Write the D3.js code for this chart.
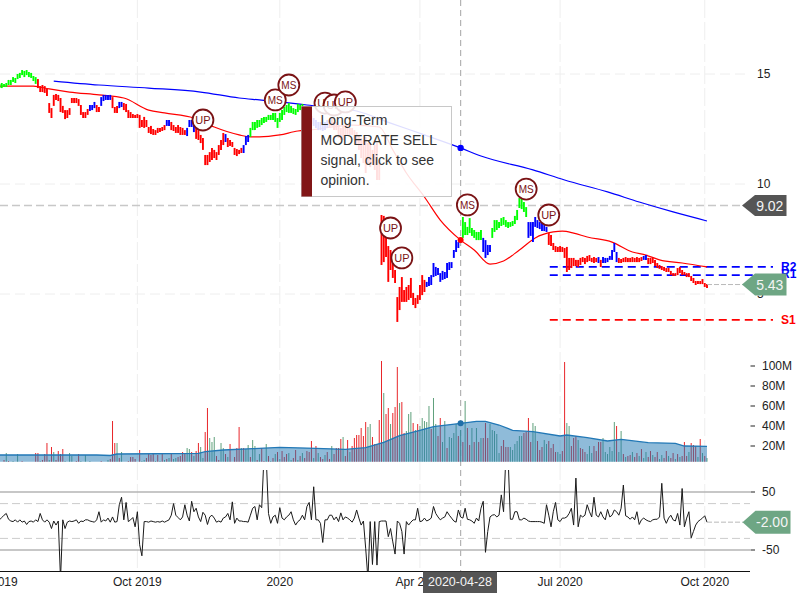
<!DOCTYPE html>
<html><head><meta charset="utf-8">
<script src="https://cdn.jsdelivr.net/npm/d3@7"></script>
<style>html,body{margin:0;padding:0;background:#fff}svg{display:block}text{font-family:"Liberation Sans",Arial,sans-serif}</style>
</head><body><svg id="c" width="800" height="600"></svg>
<script>
const highs=[14.55,14.59,14.55,14.59,14.73,14.73,14.86,14.82,15.00,15.05,
15.18,15.14,15.18,15.09,15.05,14.91,14.86,14.77,14.45,14.50,
14.45,14.32,13.68,13.45,14.05,14.09,14.05,13.91,13.55,13.36,
13.36,13.45,13.91,13.91,13.91,13.86,13.59,13.27,13.27,13.41,
13.59,13.59,13.73,13.59,13.50,13.95,14.05,14.05,14.05,14.05,
13.95,13.50,13.55,13.73,13.73,13.68,13.64,13.36,13.27,13.18,
13.14,13.18,13.14,12.91,13.05,12.91,12.59,12.64,12.50,12.45,
12.55,12.55,12.59,12.68,12.91,12.91,12.82,12.68,12.59,12.68,
12.59,12.55,12.45,12.55,12.91,12.91,12.77,12.68,12.45,12.23,
12.09,11.32,11.32,11.45,11.64,11.55,11.45,11.77,12.00,12.32,
12.27,12.09,12.00,11.91,11.64,11.59,11.55,11.64,11.77,12.18,
12.23,12.55,12.82,12.82,12.91,12.91,13.00,13.05,13.05,13.14,
13.14,13.23,13.23,13.00,13.23,13.36,13.50,13.59,13.68,13.55,
13.45,13.41,13.64,13.59,13.64,13.45,13.36,13.23,13.09,13.00,
12.91,12.82,12.82,12.73,12.82,12.91,12.91,13.00,12.82,12.82,
12.68,12.55,12.68,12.68,12.68,12.55,12.55,12.45,12.36,12.23,
12.09,12.00,12.14,11.86,11.86,11.55,11.77,11.86,11.09,8.59,
8.55,7.91,7.18,7.00,6.45,6.09,4.86,5.32,5.77,5.18,
5.32,5.41,5.73,5.05,4.82,4.95,5.41,5.86,5.64,5.55,
5.77,5.86,6.41,6.23,6.18,5.95,6.05,6.00,6.41,6.45,
6.45,7.00,7.45,7.36,7.55,8.50,8.27,8.05,8.45,8.00,
7.91,7.82,7.82,7.91,7.55,7.45,7.23,7.23,8.00,8.36,
8.36,8.27,8.45,8.50,8.36,8.27,8.27,8.32,8.55,8.82,
9.36,9.32,9.18,8.95,8.27,8.27,8.27,8.50,8.36,8.27,
8.23,8.14,8.05,7.77,7.68,7.32,7.18,7.14,7.18,7.14,
7.09,7.14,6.64,6.64,6.64,6.55,6.55,6.64,6.68,6.64,
6.73,6.77,6.64,6.68,6.64,6.68,6.55,6.68,6.64,6.64,
6.73,7.00,7.32,6.91,6.64,6.59,6.64,6.68,6.64,6.64,
6.68,6.64,6.68,6.64,6.68,6.73,6.77,6.64,6.64,6.64,
6.55,6.41,6.32,6.27,6.23,6.18,6.18,6.05,5.95,5.95,
6.18,6.23,6.09,6.00,5.95,5.95,5.82,5.73,5.59,5.59,
5.59,5.68,5.50,5.45];
const lows=[14.36,14.36,14.41,14.41,14.50,14.50,14.64,14.59,14.77,14.82,
14.95,14.86,14.95,14.86,14.82,14.68,14.55,14.36,14.18,14.18,
14.14,14.00,13.23,13.00,13.55,13.82,13.77,13.27,13.23,12.95,
13.00,13.14,13.68,13.68,13.68,13.55,13.14,13.00,13.00,13.14,
13.32,13.36,13.45,13.27,13.27,13.55,13.77,13.82,13.82,13.82,
13.45,13.23,13.23,13.45,13.50,13.36,13.27,13.00,13.00,13.00,
13.00,13.00,12.55,12.59,12.55,12.59,12.32,12.27,12.23,12.23,
12.32,12.36,12.41,12.45,12.64,12.64,12.45,12.41,12.32,12.32,
12.23,12.23,12.23,12.18,12.59,12.59,12.36,12.05,12.00,11.86,
11.55,10.86,10.86,11.00,11.09,11.18,11.09,11.32,11.55,11.77,
11.91,11.68,11.73,11.68,11.32,11.27,11.36,11.41,11.41,11.77,
11.91,12.14,12.45,12.45,12.55,12.59,12.68,12.77,12.82,12.91,
12.91,12.91,12.82,12.55,12.82,12.91,13.14,13.27,13.23,13.23,
13.18,13.14,13.27,13.36,13.45,13.23,13.14,13.00,12.73,12.64,
12.55,12.45,12.45,12.41,12.45,12.55,12.55,12.64,12.45,12.45,
12.09,12.00,12.00,12.23,12.23,12.23,12.23,12.00,11.77,11.55,
11.18,10.95,10.50,10.86,10.77,10.86,10.64,10.18,10.18,6.32,
6.45,6.68,5.55,6.09,5.73,5.50,3.73,4.27,4.64,4.64,
4.64,4.73,4.82,4.50,4.36,4.55,4.73,4.95,5.09,5.32,
5.36,5.41,5.77,5.82,5.86,5.55,5.64,5.68,5.73,6.09,
6.18,6.64,6.91,7.09,7.32,7.55,7.68,7.68,7.77,7.64,
7.55,7.45,7.45,7.45,6.91,6.64,6.77,6.91,7.55,7.82,
7.91,8.00,8.09,8.14,8.05,8.00,8.05,8.09,8.18,8.36,
8.91,8.86,8.73,8.50,7.55,7.64,7.36,8.05,8.00,7.95,
7.86,7.86,7.82,7.23,7.18,7.00,6.91,6.91,6.91,6.91,
6.64,6.00,6.09,6.18,6.27,6.27,6.23,6.32,6.45,6.36,
6.45,6.50,6.45,6.41,6.45,6.41,6.23,6.41,6.41,6.45,
6.55,6.55,6.91,6.45,6.41,6.41,6.45,6.45,6.45,6.45,
6.45,6.45,6.45,6.45,6.50,6.55,6.55,6.36,6.36,6.41,
6.27,6.18,6.14,6.09,6.05,6.00,6.00,5.86,5.82,5.82,
5.86,5.95,5.86,5.86,5.77,5.77,5.59,5.50,5.41,5.45,
5.45,5.45,5.32,5.27];
// signal runs: [signal, last bar index of the run]
const signalRuns=[["g",16],["r",39],["b",42],["r",44],["b",49],["r",52],["b",54],["r",73],["b",75],["r",82],["b",86],["r",99],["b",100],["r",107],["b",110],["g",134],["r",138],["b",145],["r",188],["b",204],["g",213],["b",217],["g",233],["b",242],["r",264],["b",265],["r",266],["b",273],["r",284],["b",286],["r",313]];
const redAvgIdx=[0,15,22,31,44,55,66,73,86,95,106,111,115,124,132,137,156,168,174,180,188,195,204,210,217,223,230,237,245,249,254,260,271,280,286,292,302,313];
const redAvgVal=[14.45,14.45,14.32,14.18,14.05,13.91,13.36,13.23,13.00,12.59,12.23,12.14,12.14,12.23,12.41,12.45,12.68,12.59,11.55,10.50,9.41,8.36,7.45,7.00,6.36,6.50,7.00,7.55,7.82,7.86,7.77,7.59,7.36,6.91,6.77,6.55,6.41,6.23];
const blueAvgIdx=[24,44,66,89,106,115,124,136,158,173,188,204,213,236,250,269,283,298,313];
const blueAvgVal=[14.68,14.50,14.36,14.18,13.91,13.82,13.73,13.59,13.32,12.77,12.23,11.64,11.27,10.64,10.18,9.64,9.18,8.73,8.32];
const markerIdx=[90,122,128,144,148,153,173,178,207,233,243];
const markerVal=[12.91,13.82,14.50,13.68,13.59,13.73,8.00,6.64,9.05,9.77,8.59];
const markerTxt=["UP","MS","MS","UP","UP","UP","UP","UP","MS","MS","UP"];
const levelNames=["R2","R1","S1"];
const levelVals=[6.23,5.86,3.82];
const volumes=[5,4,6,13,5,4,5,3,12,4,
5,3,2,3,4,2,13,13,5,6,
12,23,6,19,14,6,15,12,17,5,
4,13,10,4,5,12,5,3,11,4,
5,4,3,4,3,5,3,4,6,7,
45,23,23,8,14,3,4,5,9,9,
7,4,16,5,6,8,12,11,12,5,
11,5,12,6,7,8,12,7,8,9,
10,14,12,18,17,14,10,15,23,19,
8,34,58,28,24,29,10,6,23,18,
12,9,22,4,9,18,39,18,18,17,
21,9,26,20,6,12,18,5,22,10,
5,8,12,14,7,15,9,12,13,6,
8,16,6,10,13,8,15,14,25,8,
20,13,9,7,11,14,7,20,12,18,
18,27,29,10,26,14,20,28,31,31,
38,30,44,39,42,29,22,22,46,105,
73,52,58,42,53,59,99,63,64,33,
35,52,54,43,36,42,40,48,45,44,
60,37,68,42,30,48,24,45,18,29,
28,33,42,30,36,24,65,38,21,38,
24,38,24,28,28,43,28,42,36,35,
32,13,20,26,19,19,19,16,22,25,
30,30,33,34,48,24,43,40,25,16,
19,26,22,25,18,22,14,14,12,15,
104,43,40,20,28,30,26,18,17,14,
12,20,13,20,15,24,24,28,14,12,
19,15,44,40,14,35,12,9,10,11,
14,9,13,10,17,8,14,9,15,11,
9,14,7,11,8,15,10,8,13,7,
12,9,10,24,10,14,23,21,20,9,
27,13,10,8];
const volDirs=("rgrgrggrgr rggrgrrrgr rrgrgrrrrg rgggrrgrgr grgrgrgrgr rrgrggrrrr rgrggrrrrg rgrgrgrggr rrrggrgrrg grrgggrrgg rgrgrrrgrg grggrgrrgr grgrgrrrgg rrgrgrrrrg rgrrgrrgrr rrgrrgrrrr rrrggrrrrr grrgrrrgrr gggrgrgggg grggrrggrg gggrgrgrrg rgrgrrrggg ggrrrrgggg ggrrrrggrr rggrrrrggr rggrrrgrrr gggrrrrggg gggrggrgrr grrgrggrrg rrggrrgrrg rgrrrgrrrg rgrg").replace(/ /g,"");
const volAvgIdx=[0,43,49,52,88,91,99,112,124,140,153,162,170,177,186,192,204,211,215,221,227,236,248,251,260,269,275,287,299,303,313];
const volAvgVal=[11,11,10.5,12,12.7,14.3,16,17.3,18.7,17.7,16.7,18.3,23.7,30.3,35.7,39.3,42.7,44.7,44.7,41,35.7,34.3,30,31,28.3,25,26.7,23.3,22.7,20,19.7];
const oscVals=[2,6,10,13,3,0,-1,2,-2,2,
-2,0,-6,-1,0,-2,2,-1,13,2,
-2,2,-2,-13,0,-7,0,-100,2,-13,
-2,0,-1,0,2,-4,0,-1,2,2,
0,-1,-2,2,16,-2,2,0,5,-2,
7,-2,-1,28,41,2,32,-1,2,6,
-10,16,-41,-60,-1,-1,-2,0,-1,-2,
-1,-2,0,-2,0,2,10,30,10,6,
2,7,28,10,0,34,16,22,7,-1,
15,10,-6,7,10,5,-2,0,-2,5,
7,13,2,33,-4,5,0,0,-1,-1,
-2,10,22,25,2,28,23,110,110,13,
-4,7,10,-4,23,5,2,7,10,16,
2,-7,-1,2,10,2,25,32,2,59,
2,2,-4,-37,2,2,10,10,2,7,
-1,14,2,7,5,2,-2,5,19,5,
-7,0,-47,-100,-1,-75,-1,-76,-1,0,
0,0,-27,-13,-36,-57,0,-4,-18,-57,
-1,-7,-2,2,2,22,-1,0,5,0,
2,5,25,13,7,2,5,7,16,10,
5,0,-2,19,7,5,22,3,2,0,
-4,5,0,22,34,-54,-18,7,10,11,
7,10,45,16,110,110,3,3,16,16,
2,2,5,3,0,-1,-1,-1,-1,-1,
-2,-4,28,10,-10,16,32,2,-1,5,
5,7,13,22,-7,74,-10,10,7,10,
28,16,7,41,10,7,16,7,2,20,
7,10,19,16,10,22,62,9,7,3,
7,2,16,-6,2,5,2,0,-1,2,
3,3,7,65,5,-4,5,10,2,0,
13,-7,56,-10,5,16,-29,-18,-7,-1,
2,5,9,-2];
const xTickIdx=[-2,61,124,186,248,312];
const xTickLabels=["Jul 2019","Oct 2019","2020","Apr 2020","Jul 2020","Oct 2020"];
const priceTicks=[15,10,5];
const volTicks=[100,80,60,40,20];
const oscTicks=[50,-50];
const oscBands=[30,-30];
const crossIdx=204, crossLabel="2020-04-28";
const lastClose=5.43, crossPrice=9.02, lastOsc=-2.00;
const tooltipLines=["Long-Term","MODERATE SELL","signal, click to see","opinion."];

const svg=d3.select("#c");
const x=d3.scaleLinear().domain([0,313]).range([-0.5,707]);
const yP=d3.scaleLinear().domain([5,15]).range([294,74]);
const yV=d3.scaleLinear().domain([0,100]).range([466,366]);
const yO=d3.scaleLinear().domain([-50,50]).range([550,492]);
const volBase=461.7;
const sigColor={g:"#00ff00",r:"#ff0000",b:"#0000ff"};
const defs=svg.append("defs");
defs.append("clipPath").attr("id","oc").append("rect").attr("x",0).attr("y",470).attr("width",750).attr("height",101.5);

const signalAt=i=>signalRuns.find(r=>i<=r[1])[0];
const curve=d3.curveMonotoneX;

// grid
const grid=svg.append("g");
grid.selectAll("line.v").data(xTickIdx.slice(1)).join("line").attr("class","v")
 .attr("x1",d=>x(d)).attr("x2",d=>x(d)).attr("y1",0).attr("y2",571)
 .attr("stroke","#eeeeee").attr("stroke-dasharray","18,4").attr("stroke-width",1);
grid.selectAll("line.h").data(priceTicks).join("line").attr("class","h")
 .attr("x1",0).attr("x2",750).attr("y1",d=>yP(d)).attr("y2",d=>yP(d))
 .attr("stroke","#eeeeee").attr("stroke-dasharray","10,5").attr("stroke-width",1);

// horizontal crosshair at price
svg.append("line").attr("x1",0).attr("x2",743).attr("y1",yP(crossPrice)).attr("y2",yP(crossPrice))
 .attr("stroke","#c8c8c8").attr("stroke-width",1.6).attr("stroke-dasharray","8,4");

// levels
svg.selectAll("line.lv").data(levelNames).join("line").attr("class","lv")
 .attr("x1",x(243)+1).attr("x2",773).attr("y1",(d,i)=>yP(levelVals[i])).attr("y2",(d,i)=>yP(levelVals[i]))
 .attr("stroke",(d,i)=>i<2?"#0000ff":"#ff0000").attr("stroke-width",1.7).attr("stroke-dasharray","8,5");

// averages
const lineOf=(ix,val)=>d3.line().x((d,i)=>x(ix[i])).y((d,i)=>yP(val[i])).curve(curve)(val);
svg.append("path").attr("d",lineOf(redAvgIdx,redAvgVal)).attr("fill","none").attr("stroke","#ff0000").attr("stroke-width",1.2);
svg.append("path").attr("d",lineOf(blueAvgIdx,blueAvgVal)).attr("fill","none").attr("stroke","#0000ff").attr("stroke-width",1.2);

// price bars
svg.append("g").selectAll("line").data(highs).join("line")
 .attr("x1",(d,i)=>x(i)).attr("x2",(d,i)=>x(i))
 .attr("y1",d=>yP(d)).attr("y2",(d,i)=>yP(lows[i]))
 .attr("stroke",(d,i)=>sigColor[signalAt(i)]).attr("stroke-width",1.9);

// vertical crosshair
svg.append("line").attr("x1",x(crossIdx)).attr("x2",x(crossIdx)).attr("y1",0).attr("y2",575)
 .attr("stroke","#b4b4b4").attr("stroke-width",1.2).attr("stroke-dasharray","6,4");

// crosshair dots
svg.append("circle").attr("cx",x(crossIdx)).attr("cy",yP(blueAvgVal[blueAvgIdx.indexOf(crossIdx)])).attr("r",3.2).attr("fill","#0000ff");
svg.append("circle").attr("cx",x(crossIdx)).attr("cy",yP(redAvgVal[redAvgIdx.indexOf(crossIdx)])).attr("r",3).attr("fill","#ff0000");

// markers
const mk=svg.append("g").selectAll("g").data(markerTxt).join("g")
 .attr("transform",(d,i)=>`translate(${x(markerIdx[i])},${yP(markerVal[i])})`);
mk.append("circle").attr("r",10.5).attr("fill","#fff").attr("stroke","#7a1315").attr("stroke-width",1.8);
mk.append("text").text(d=>d).attr("text-anchor","middle").attr("dy","0.36em").attr("font-size",d=>d==="MS"?10:11).attr("fill","#7a1315");

// opinion box
const tipX=301.5,tipY=106.5,tipW=150,tipH=90;
svg.append("rect").attr("x",tipX).attr("y",tipY).attr("width",tipW).attr("height",tipH)
 .attr("fill","#fff").attr("fill-opacity",0.87).attr("stroke","#c8c8c8").attr("stroke-width",1);
svg.append("rect").attr("x",tipX).attr("y",tipY).attr("width",10.5).attr("height",tipH).attr("fill","#811617");
svg.append("g").selectAll("text").data(tooltipLines).join("text").text(d=>d)
 .attr("x",320.5).attr("y",(d,i)=>125+i*20).attr("font-size",14).attr("fill","#333");

// level labels
svg.selectAll("text.lv").data(levelNames).join("text").attr("class","lv").text(d=>d)
 .attr("x",781).attr("y",(d,i)=>yP(levelVals[i])+(i===1?-1:0)).attr("dy","0.36em").attr("font-size",12).attr("font-weight","bold")
 .attr("fill",(d,i)=>i<2?"#0000ff":"#ff0000");

// price ticks
svg.append("g").selectAll("text").data(priceTicks).join("text").text(d=>d)
 .attr("x",757).attr("y",d=>yP(d)).attr("dy","0.36em").attr("font-size",12).attr("fill","#222");

// volume
svg.append("g").selectAll("line").data(volumes).join("line")
 .attr("x1",(d,i)=>x(i)).attr("x2",(d,i)=>x(i)).attr("y1",volBase).attr("y2",d=>Math.min(volBase,yV(d)))
 .attr("stroke",(d,i)=>volDirs[i]==="r"?"#e8262a":"#5fa07c").attr("stroke-width",1);
const area=d3.area().x((d,i)=>x(volAvgIdx[i])).y1((d,i)=>yV(volAvgVal[i])).y0(volBase);
svg.append("path").attr("d",area(volAvgVal)).attr("fill","#1f77b4").attr("fill-opacity",0.5);
svg.append("path").attr("d",d3.line().x((d,i)=>x(volAvgIdx[i])).y((d,i)=>yV(volAvgVal[i]))(volAvgVal))
 .attr("fill","none").attr("stroke","#2278b6").attr("stroke-width",1.3);
svg.append("circle").attr("cx",x(crossIdx)).attr("cy",yV(volAvgVal[volAvgIdx.indexOf(crossIdx)])).attr("r",3).attr("fill","#1f6fa8");
const vt=svg.append("g").selectAll("g").data(volTicks).join("g").attr("transform",d=>`translate(0,${yV(d)})`);
vt.append("line").attr("x1",750.5).attr("x2",755).attr("stroke","#222");
vt.append("text").text(d=>d+"M").attr("x",762).attr("dy","0.36em").attr("font-size",12).attr("fill","#222");

// oscillator
svg.selectAll("line.osb").data(oscBands).join("line").attr("class","osb")
 .attr("x1",0).attr("x2",750).attr("y1",d=>yO(d)).attr("y2",d=>yO(d))
 .attr("stroke","#cccccc").attr("stroke-dasharray","8,4");
svg.selectAll("line.ost").data(oscTicks).join("line").attr("class","ost")
 .attr("x1",0).attr("x2",750).attr("y1",d=>yO(d)).attr("y2",d=>yO(d))
 .attr("stroke","#b5b5b5").attr("stroke-width",1.5);
svg.append("path").attr("clip-path","url(#oc)")
 .attr("d",d3.line().x((d,i)=>x(i)).y(d=>yO(d))(oscVals))
 .attr("fill","none").attr("stroke","#1a1a1a").attr("stroke-width",1);
const ot=svg.append("g").selectAll("g").data(oscTicks).join("g").attr("transform",d=>`translate(0,${yO(d)})`);
ot.append("line").attr("x1",750.5).attr("x2",755).attr("stroke","#222");
ot.append("text").text(d=>d).attr("x",762).attr("dy","0.36em").attr("font-size",12).attr("fill","#222");

// x axis
svg.append("line").attr("x1",0).attr("x2",750).attr("y1",571.5).attr("y2",571.5).attr("stroke","#111").attr("stroke-width",1);
svg.append("g").selectAll("text").data(xTickLabels).join("text").text(d=>d)
 .attr("x",(d,i)=>x(xTickIdx[i])).attr("y",582).attr("dy","0.36em").attr("text-anchor","middle").attr("font-size",12).attr("fill","#222");

// value tags
function tag(yc,h,left,right,fill,label){
  const g=svg.append("g");
  g.append("path").attr("d",`M${left},${yc} L${left+13},${yc-h/2} L${right},${yc-h/2} L${right},${yc+h/2} L${left+13},${yc+h/2} Z`).attr("fill",fill);
  g.append("text").text(label).attr("x",(left+13+right)/2-1).attr("y",yc).attr("dy","0.36em").attr("text-anchor","middle").attr("font-size",14).attr("fill","#f4f4f4");
}
svg.append("line").attr("x1",x(313)).attr("x2",743).attr("y1",yP(lastClose)).attr("y2",yP(lastClose)).attr("stroke","#b9b9b9").attr("stroke-dasharray","5,2");
svg.append("line").attr("x1",x(313)).attr("x2",743).attr("y1",yO(lastOsc)).attr("y2",yO(lastOsc)).attr("stroke","#b9b9b9").attr("stroke-dasharray","5,2");
tag(yP(crossPrice),21,742,786.5,"#555555",crossPrice.toFixed(2));
tag(yP(lastClose),22,742,786.5,"#6ea684",lastClose.toFixed(2));
tag(yO(lastOsc),23,742.5,790.5,"#6ea684",lastOsc.toFixed(2));

// date tag
svg.append("rect").attr("x",423).attr("y",571.5).attr("width",74).attr("height",21.5).attr("fill","#555555");
svg.append("text").text(crossLabel).attr("x",460).attr("y",581).attr("dy","0.36em").attr("text-anchor","middle").attr("font-size",12.5).attr("fill","#f4f4f4");
</script></body></html>
